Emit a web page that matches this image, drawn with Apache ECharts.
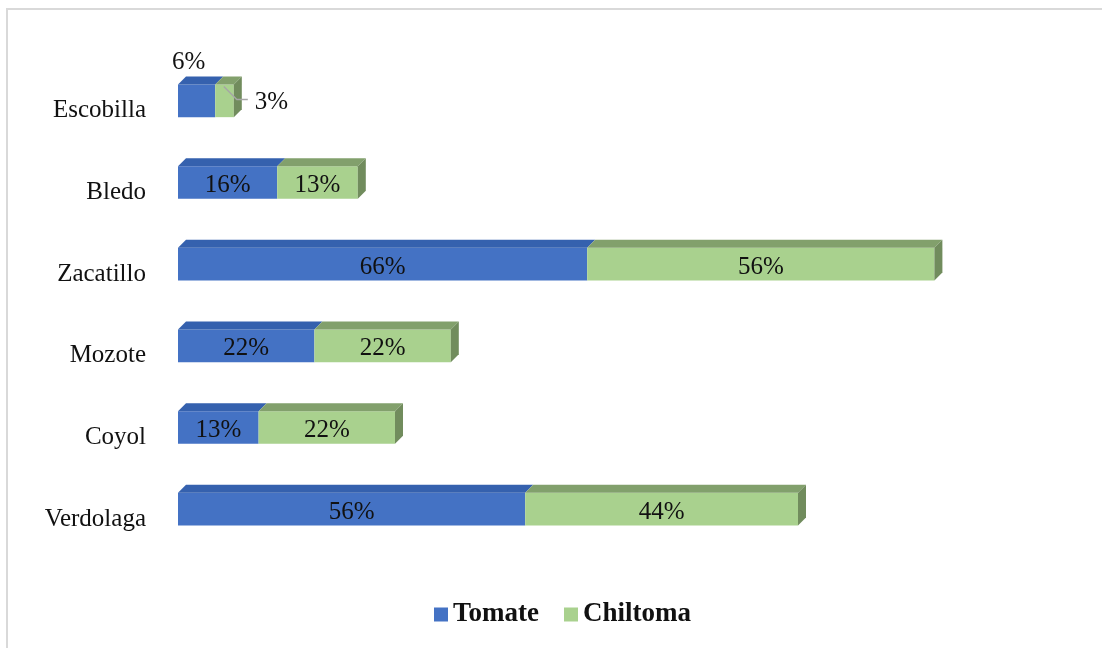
<!DOCTYPE html>
<html>
<head>
<meta charset="utf-8">
<script src="https://cdn.jsdelivr.net/npm/echarts@6/dist/echarts.min.js"></script>
<style>
  html, body { margin: 0; padding: 0; background: #ffffff; }
  #chart { width: 1102px; height: 648px; }
</style>
</head>
<body>
<div id="chart"></div>
<script>
// Weed species and share of presence per crop (%)
const categories = ['Escobilla', 'Bledo', 'Zacatillo', 'Mozote', 'Coyol', 'Verdolaga'];
const tomate = [6, 16, 66, 22, 13, 56];
const chiltoma = [3, 13, 56, 22, 22, 44];
const seriesNames = ['Tomate', 'Chiltoma'];

const FONT = "'Liberation Serif', 'Times New Roman', serif";
const palette = {
  Tomate: { front: '#4472C4', top: '#3561AE', side: '#2E5597' },
  Chiltoma: { front: '#A9D18E', top: '#82A06C', side: '#718C5D' }
};

// Stacked segments: [category index, start, end, value]
const tomateSeg = categories.map((c, i) => [i, 0, tomate[i], tomate[i]]);
const chiltomaSeg = categories.map((c, i) => [i, tomate[i], tomate[i] + chiltoma[i], chiltoma[i]]);

const DX = 8, DY = 8;

function makeRender(name, isLast) {
  const col = palette[name];
  return function (params, api) {
    const cat = api.value(0);
    const a = api.value(1), b = api.value(2), v = api.value(3);
    const s = api.coord([a, cat]);
    const e = api.coord([b, cat]);
    const h = api.size([0, 1])[1] * 0.4;
    const y0 = s[1] - h / 2, y1 = s[1] + h / 2;
    const x0 = s[0], x1 = e[0];
    const w = x1 - x0;
    const children = [
      { type: 'rect', shape: { x: x0, y: y0, width: w, height: h }, style: { fill: col.front } },
      { type: 'polygon', shape: { points: [[x0, y0], [x0 + DX, y0 - DY], [x1 + DX, y0 - DY], [x1, y0]] }, style: { fill: col.top } }
    ];
    if (isLast) {
      children.push({ type: 'polygon', shape: { points: [[x1, y0], [x1 + DX, y0 - DY], [x1 + DX, y1 - DY], [x1, y1]] }, style: { fill: col.side } });
    }
    const txt = v + '%';
    const tStyle = { text: txt, fill: '#111', font: '25px ' + FONT };
    if (w >= 45) {
      children.push({ type: 'text', style: Object.assign({ x: (x0 + x1) / 2, y: s[1] + 3, align: 'center', verticalAlign: 'middle' }, tStyle) });
    } else if (!isLast) {
      // narrow first segment: value above the bar
      children.push({ type: 'text', style: Object.assign({ x: x0 - 6, y: y0 - 22, align: 'left', verticalAlign: 'middle' }, tStyle) });
    } else {
      // narrow last segment: value to the right with a leader line
      children.push({ type: 'polyline', shape: { points: [[x1 - 10, y0 + 2], [x1 + 3, y0 + 15], [x1 + 14, y0 + 15]] }, style: { stroke: '#A6A6A6', lineWidth: 1.5, fill: null } });
      children.push({ type: 'text', style: Object.assign({ x: x1 + 21, y: y0 + 18, align: 'left', verticalAlign: 'middle' }, tStyle) });
    }
    return { type: 'group', children: children };
  };
}

const chart = echarts.init(document.getElementById('chart'), null, { renderer: 'canvas' });
chart.setOption({
  backgroundColor: '#ffffff',
  animation: false,
  graphic: [{
    type: 'rect', silent: true, z: -10,
    shape: { x: 7, y: 9, width: 1300, height: 900 },
    style: { fill: null, stroke: '#D9D9D9', lineWidth: 2 }
  }],
  grid: { left: 178, right: 56, top: 60, height: 490 },
  xAxis: { type: 'value', min: 0, max: 140, show: false, splitLine: { show: false } },
  yAxis: {
    type: 'category', data: categories, inverse: true,
    axisLine: { show: false }, axisTick: { show: false }, splitLine: { show: false },
    axisLabel: {
      margin: 32,
      formatter: '{c|{value}}',
      rich: { c: { color: '#111', fontFamily: FONT, fontSize: 25, padding: [20, 0, 0, 0] } }
    }
  },
  legend: {
    data: seriesNames, left: 429, top: 596,
    icon: 'rect', itemWidth: 14, itemHeight: 14, itemGap: 25,
    textStyle: { fontFamily: FONT, fontSize: 27, fontWeight: 'bold', color: '#111' }
  },
  series: [
    {
      name: 'Tomate', type: 'custom', renderItem: makeRender('Tomate', false),
      itemStyle: { color: palette.Tomate.front },
      encode: { x: [1, 2], y: 0 }, data: tomateSeg
    },
    {
      name: 'Chiltoma', type: 'custom', renderItem: makeRender('Chiltoma', true),
      itemStyle: { color: palette.Chiltoma.front },
      encode: { x: [1, 2], y: 0 }, data: chiltomaSeg
    }
  ]
});
</script>
</body>
</html>
